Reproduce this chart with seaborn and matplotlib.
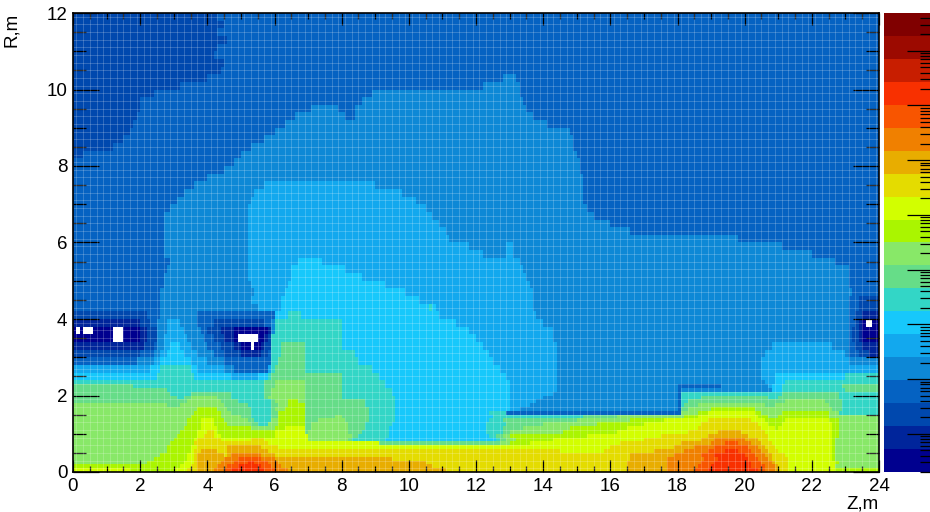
import numpy as np
import pandas as pd
import matplotlib
matplotlib.use("Agg")
import matplotlib.pyplot as plt
import seaborn as sns
from matplotlib.colors import ListedColormap
from matplotlib.ticker import LogLocator, NullFormatter

# 20 palette levels, bottom to top of the colour bar
level_colors = ['#00008f', '#00259b', '#0048ae', '#0562c2', '#0d88d6', '#12a8ee', '#17c8fb',
                '#33d6c6', '#66dd88', '#88e868', '#aaf500', '#d2ff00', '#e4dc00', '#e8ad00',
                '#f08000', '#f85500', '#f83000', '#c81e00', '#9c0a00', '#800000']
level_codes = '0123456789abcdefghij'

z_ticks = [0, 2, 4, 6, 8, 10, 12, 14, 16, 18, 20, 22, 24]
r_ticks = [0, 2, 4, 6, 8, 10, 12]
bar_range = [0.2, 4.9e7]

# map, one string per row: "level:Z where that level ends"
# rows 0.2 m high, R = 12 down to 2.4
upper_rows = [
    "2:4.3 3:24", "2:4.5 3:24", "2:4.3 3:24", "2:4.6 3:24", "2:4.3 3:24", "2:4.2 3:24", "2:4.5 3:24",
    "2:4.4 3:24",
    "2:4.0 3:12.8 4:13.2 3:24",
    "2:3.2 3:12.2 4:13.3 3:24",
    "2:2.4 3:8.9 4:13.3 3:24",
    "2:2.0 3:8.6 4:13.4 3:24",
    "2:2.0 3:7.1 4:7.9 3:8.4 4:13.5 3:24",
    "2:1.9 3:6.6 4:8.1 3:8.4 4:13.7 3:24",
    "2:1.8 3:6.3 4:14.1 3:24",
    "2:1.7 3:6.0 4:14.8 3:24",
    "2:1.5 3:5.7 4:14.9 3:24",
    "2:1.2 3:5.3 4:14.9 3:24",
    "2:0.3 3:5.0 4:15.0 3:24",
    "3:4.8 4:15.1 3:24",
    "3:4.5 4:15.1 3:24",
    "3:4.0 4:15.2 3:24",
    "3:3.6 4:5.7 5:9.0 4:15.2 3:24",
    "3:3.3 4:5.4 5:9.8 4:15.2 3:24",
    "3:3.1 4:5.3 5:10.2 4:15.2 3:24",
    "3:2.9 4:5.2 5:10.5 4:15.3 3:24",
    "3:2.7 4:5.2 5:10.7 4:15.5 3:24",
    "3:2.7 4:5.2 5:10.9 4:16.0 3:24",
    "3:2.7 4:5.2 5:11.1 4:16.6 3:24",
    "3:2.7 4:5.2 5:11.2 4:19.8 3:24",
    "3:2.7 4:5.2 5:11.8 4:12.9 5:13.1 4:21.1 3:24",
    "3:2.7 4:5.2 5:12.2 4:12.9 5:13.1 4:22.0 3:24",
    "3:2.9 4:5.2 5:6.7 6:7.4 5:13.3 4:22.7 3:24",
    "3:2.8 4:5.2 5:6.5 6:8.1 5:13.4 4:23.1 3:24",
    "3:2.7 4:5.2 5:6.5 6:8.6 5:13.5 4:23.1 3:24",
    "3:2.7 4:5.3 5:6.4 6:9.3 5:13.6 4:23.1 3:24",
    "3:2.6 4:5.4 5:6.3 6:9.9 5:13.7 4:23.2 3:24",
    "3:2.6 4:5.3 5:6.2 6:10.3 5:13.7 4:23.1 3:23.4 2:24",
    "3:2.6 4:5.5 5:6.2 6:10.6 7:10.7 6:10.8 5:13.7 4:23.1 3:23.4 2:24",
    "2:2.2 3:2.6 4:3.7 3:6.0 6:6.4 7:6.8 6:10.9 5:13.8 4:23.1 3:23.3 2:23.5 1:24",
    "1:2.0 2:2.3 3:2.5 4:2.8 5:3.2 4:3.7 3:4.2 2:5.7 3:5.9 4:6.0 7:8.0 6:11.4 5:14.0 4:23.1 3:23.3 2:23.4 1:23.5 0:23.6 _:23.8 0:24",
    "0:0.1 _:0.2 0:0.3 _:0.6 0:1.2 _:1.5 0:2.0 1:2.2 2:2.5 4:2.8 5:3.3 4:3.8 3:4.0 2:4.4 1:4.8 0:5.8 1:5.9 4:6.0 7:8.0 6:11.8 5:14.3 4:23.1 3:23.2 2:23.4 1:23.5 0:24",
    "0:1.2 _:1.5 0:2.0 1:2.2 2:2.5 4:2.7 5:3.4 4:3.9 3:4.2 2:4.5 1:4.8 0:4.9 _:5.5 0:5.7 1:5.8 2:5.9 7:8.0 6:12.0 5:14.3 4:23.1 3:23.2 2:23.4 1:23.5 0:24",
    "1:2.1 2:2.4 3:2.5 4:2.7 5:2.9 6:3.2 5:3.5 4:4.0 3:4.4 2:4.8 1:5.0 0:5.3 _:5.4 0:5.6 1:5.7 2:5.9 7:6.2 8:6.9 7:8.0 6:12.2 5:14.4 4:20.8 5:22.6 4:23.1 3:23.3 2:23.5 1:24",
    "2:2.0 3:2.4 4:2.6 5:2.8 6:3.3 5:3.7 4:4.2 3:4.5 2:5.0 1:5.6 2:5.8 3:5.9 7:6.2 8:6.9 7:8.4 6:12.4 5:14.4 4:20.6 5:23.0 4:23.1 3:23.4 2:23.7 1:24",
    "3:1.9 4:2.4 5:2.6 6:3.5 5:4.0 4:4.5 3:5.9 7:6.1 8:6.9 7:8.5 6:12.5 5:14.4 4:20.5 5:23.1 4:24",
    "5:2.3 6:2.6 7:3.5 6:3.7 5:4.5 4:4.8 3:5.8 5:5.9 7:6.0 8:6.9 7:8.9 6:12.7 5:14.4 4:20.5 5:24",
    "6:2.5 7:3.6 6:4.7 5:5.5 6:5.8 7:5.9 8:6.9 8:8.0 7:9.1 6:12.9 5:14.4 4:20.5 5:20.9 6:23.0 7:24",
]

# rows 0.1 m high, R = 2.4 down to 0
lower_rows = [
    "7:5.7 8:6.0 9:6.9 8:8.0 7:9.3 6:13.0 5:14.4 4:20.6 5:20.9 6:21.2 7:24",
    "8:1.8 7:5.7 8:6.0 9:6.9 8:8.0 7:9.3 6:13.0 5:14.4 4:18.0 3:19.3 4:20.7 5:20.8 6:21.1 7:22.9 8:24",
    "8:2.8 7:5.7 8:5.9 9:6.9 8:8.0 7:9.5 6:13.0 5:14.4 4:18.0 3:18.1 4:20.8 6:21.1 7:23.0 8:24",
    "8:2.9 7:3.5 8:4.7 7:5.7 8:5.9 9:6.9 8:8.0 7:9.5 6:13.0 5:14.3 4:18.0 3:18.1 7:21.1 8:22.8 7:24",
    "8:3.1 7:3.3 8:3.5 9:4.3 8:4.7 7:5.7 8:5.8 9:6.9 8:8.0 7:9.6 6:13.0 5:14.0 4:18.0 3:18.1 7:18.7 8:20.7 7:21.0 8:22.8 7:24",
    "8:3.4 9:4.4 8:4.9 7:5.9 8:6.0 9:6.4 a:6.7 9:6.9 8:8.7 7:9.6 6:13.0 5:13.8 4:18.0 3:18.1 7:18.3 8:21.2 9:22.4 8:22.9 7:24",
    "9:2.8 8:3.2 9:4.5 8:5.2 7:5.9 8:6.1 9:6.4 a:6.9 8:8.7 7:9.6 6:13.0 5:13.6 4:18.0 3:18.1 7:18.2 8:18.6 9:20.6 8:20.9 9:22.5 8:22.9 7:24",
    "9:3.7 a:4.3 9:4.6 8:5.3 7:5.9 8:6.0 9:6.3 a:6.9 8:8.8 7:9.6 6:13.0 5:13.3 4:18.0 3:18.1 8:18.3 9:19.0 a:20.3 9:22.6 8:22.9 7:24",
    "9:3.6 a:4.4 9:4.7 8:5.3 7:5.9 8:6.1 a:6.9 8:8.8 7:9.6 6:12.4 7:12.9 3:18.1 9:18.6 a:18.9 b:20.3 a:20.5 9:21.1 a:22.5 9:22.8 7:24",
    "9:3.5 a:4.4 9:5.0 8:5.3 7:5.9 8:6.1 a:6.9 8:7.8 9:8.0 8:8.8 7:9.6 6:12.5 7:15.2 8:16.2 9:18.2 a:18.6 b:20.4 a:20.7 9:21.0 a:22.5 9:24",
    "9:3.4 a:3.8 b:4.2 a:4.5 9:5.2 8:5.4 7:5.9 9:6.1 a:6.9 8:7.3 9:8.1 8:8.8 7:9.6 6:12.4 7:12.8 8:15.0 9:16.6 a:17.6 b:18.9 c:20.2 b:20.6 a:21.2 b:22.5 a:22.8 9:24",
    "9:3.4 a:3.8 b:4.2 a:4.6 9:5.3 8:5.5 7:5.8 9:6.1 a:6.9 8:7.1 9:8.2 8:8.7 7:9.5 6:12.3 7:12.9 8:14.0 9:15.6 a:17.0 b:18.7 c:20.4 b:20.7 a:21.1 b:22.6 a:22.8 9:24",
    "9:3.3 a:3.8 b:4.3 a:5.3 9:6.0 a:6.3 b:6.9 8:7.1 9:8.2 8:8.7 7:9.4 6:12.3 7:12.8 8:13.4 9:14.8 a:16.5 b:18.6 c:20.5 b:20.9 a:21.0 b:22.6 a:22.8 9:24",
    "9:3.2 a:3.7 b:4.0 c:4.2 b:4.3 a:6.0 b:6.9 8:7.0 9:8.2 8:8.6 7:9.4 6:12.3 7:12.8 8:13.0 9:14.6 a:16.2 b:18.3 c:19.2 d:19.9 c:20.6 b:22.6 a:22.8 9:24",
    "9:3.1 a:3.7 b:3.9 c:4.2 b:4.4 a:6.0 b:7.0 9:8.3 8:8.5 7:9.4 6:12.4 7:12.6 8:12.8 9:13.0 a:15.3 b:17.5 c:18.9 d:20.1 c:20.7 b:22.6 a:22.8 9:24",
    "9:3.0 a:3.6 b:3.7 c:4.4 b:5.3 c:5.7 b:7.0 9:8.2 8:8.3 7:9.3 6:12.6 7:12.7 8:12.9 9:13.2 a:14.3 b:17.0 c:18.7 d:19.1 e:20.0 d:20.4 c:20.7 b:22.6 a:22.7 9:24",
    "9:2.9 a:3.6 c:5.8 b:9.1 8:12.7 9:13.0 a:13.6 b:16.3 c:18.1 d:19.0 e:19.4 f:19.8 e:20.2 d:20.5 c:20.8 b:22.6 a:22.7 9:24",
    "9:2.8 a:3.5 b:3.7 c:4.6 d:5.6 c:6.1 b:16.0 c:17.9 d:18.5 e:19.1 f:20.1 e:20.4 d:20.6 c:20.9 b:22.6 a:22.7 9:24",
    "9:2.8 a:3.5 b:3.6 c:3.8 d:4.3 c:4.6 d:5.8 c:14.5 b:15.8 c:17.3 d:18.2 e:18.9 f:19.4 g:19.8 f:20.2 e:20.5 d:20.7 c:21.0 b:22.6 a:22.7 9:24",
    "9:2.6 a:3.4 b:3.6 c:3.7 d:4.5 c:4.6 d:4.7 e:5.6 d:6.0 c:16.6 d:17.9 e:18.7 f:19.1 g:20.0 f:20.3 e:20.6 d:20.8 c:21.2 b:22.6 a:22.7 9:24",
    "9:2.4 a:3.4 b:3.6 c:3.7 d:4.5 e:4.9 f:5.6 e:6.0 d:9.5 c:16.6 d:17.7 e:18.8 f:19.2 g:20.1 f:20.4 e:20.7 d:20.8 c:21.3 b:22.6 a:22.7 9:24",
    "9:2.2 a:3.3 b:3.6 c:3.7 d:4.4 e:4.8 f:5.2 g:5.4 f:5.8 e:6.1 d:10.5 c:16.5 d:17.7 e:18.7 f:19.1 g:20.2 f:20.5 e:20.8 d:20.9 c:21.3 b:22.7 a:22.8 9:24",
    "a:3.2 b:3.5 c:3.7 d:4.3 e:4.6 f:4.9 g:5.6 f:5.9 e:6.2 d:10.7 c:16.5 d:17.7 e:18.6 f:19.0 g:20.2 f:20.6 e:20.9 d:21.0 c:21.3 b:22.7 9:24",
    "b:1.7 a:3.0 b:3.4 c:3.7 d:4.2 e:4.5 f:4.7 g:5.7 f:6.0 e:6.4 d:11.1 c:16.5 d:17.7 e:18.5 f:18.9 g:20.4 f:20.6 e:20.9 d:21.0 c:21.3 b:22.7 a:24",
]


def row_cells(row):
    # 240 cells of 0.1 m along Z
    cells = np.full(240, np.nan)
    start = 0
    for token in row.split():
        code, end = token.split(':')
        end = int(round(float(end) * 10))
        if code != '_':
            cells[start:end] = level_codes.index(code) + 0.5
        start = end
    return cells


grid = [row_cells(r) for r in upper_rows for _ in range(2)] + [row_cells(r) for r in lower_rows]
df = pd.DataFrame(np.array(grid))

W, H = 930, 512
plt.rcParams['font.family'] = ['Liberation Sans', 'DejaVu Sans']
fig = plt.figure(figsize=(W / 100, H / 100), dpi=100)
ax = fig.add_axes([73 / W, 1 - 472 / H, 806 / W, 459 / H])
cax = fig.add_axes([884 / W, 1 - 472 / H, 46 / W, 459 / H])

sns.heatmap(df, ax=ax, cbar_ax=cax, cmap=ListedColormap(level_colors), vmin=0, vmax=20,
            xticklabels=False, yticklabels=False)

cbar = ax.collections[0].colorbar
cbar.outline.set_visible(False)
cax.set_yticks([])

# faint cell edges, only every second one shows up at this size
ax.vlines(np.arange(1, 240, 2), 0, 120, color='white', lw=0.7, alpha=0.2)
ax.hlines(np.arange(1, 120, 2), 0, 240, color='white', lw=0.7, alpha=0.2)

ax.set_xticks([z * 10 for z in z_ticks], labels=z_ticks)
ax.set_yticks([(12 - r) * 10 for r in r_ticks], labels=r_ticks)
ax.set_xticks(np.arange(0, 241, 5), minor=True)
ax.set_yticks(np.arange(0, 121, 5), minor=True)
ax.tick_params(axis='x', which='major', direction='in', length=8.6, width=0.9, top=True, bottom=True,
               labelsize=13.5, pad=4, labelrotation=0)
ax.tick_params(axis='x', which='minor', direction='in', length=4.3, width=0.9, top=True, bottom=True)
ax.tick_params(axis='y', which='major', direction='in', length=18.7, width=0.9, left=True, right=True,
               labelsize=13.5, pad=4, labelrotation=0)
ax.tick_params(axis='y', which='minor', direction='in', length=9.4, width=0.9, left=True, right=True)
for spine in ax.spines.values():
    spine.set_visible(True)
    spine.set_linewidth(1.2)
    spine.set_color('black')

ax.set_xlabel('Z,m', loc='right', fontsize=13.5, labelpad=1)
ax.set_ylabel('R,m', loc='top', fontsize=13.5, labelpad=19)

# log axis ticks of the colour bar, their labels fall outside the figure
log_ax = cax.twinx()
log_ax.set_yscale('log')
log_ax.set_ylim(*bar_range)
log_ax.yaxis.set_major_locator(LogLocator(base=10, numticks=12))
log_ax.yaxis.set_minor_locator(LogLocator(base=10, subs=np.arange(2, 10), numticks=12))
log_ax.yaxis.set_major_formatter(NullFormatter())
log_ax.yaxis.set_minor_formatter(NullFormatter())
log_ax.tick_params(axis='y', which='major', direction='in', length=16.5, width=0.9, right=True)
log_ax.tick_params(axis='y', which='minor', direction='in', length=7.2, width=0.9, right=True)
for spine in log_ax.spines.values():
    spine.set_visible(False)

fig.savefig('out.png', dpi=100)
